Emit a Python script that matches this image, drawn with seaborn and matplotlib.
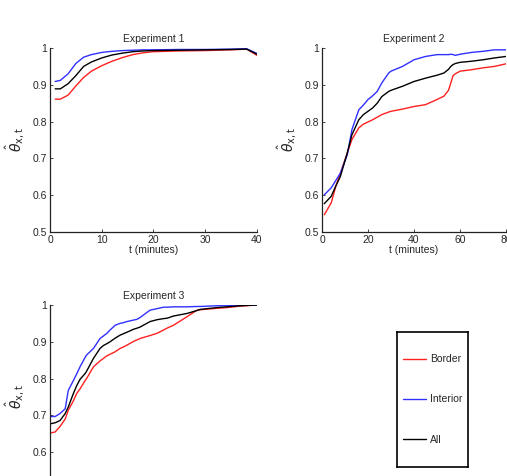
import matplotlib
matplotlib.use("Agg")
import matplotlib.pyplot as plt
import matplotlib.ticker as mticker
import seaborn as sns
import pandas as pd

# Experiment 1 (t in minutes)
t1 = [1, 2, 3.5, 5, 6.5, 8, 10, 12, 14, 16, 18, 20, 25, 30, 35, 38, 40]
border1 = [0.861, 0.861, 0.872, 0.897, 0.920, 0.937, 0.952, 0.964, 0.974, 0.982, 0.987, 0.990, 0.992, 0.993, 0.995, 0.997, 0.980]
interior1 = [0.909, 0.912, 0.930, 0.958, 0.975, 0.982, 0.988, 0.991, 0.993, 0.994, 0.995, 0.995, 0.996, 0.996, 0.997, 0.998, 0.985]
all1 = [0.889, 0.889, 0.903, 0.925, 0.950, 0.962, 0.973, 0.981, 0.986, 0.990, 0.992, 0.993, 0.994, 0.995, 0.996, 0.997, 0.983]

# Experiment 2
t2 = [1, 4, 6, 8, 11, 13, 16, 18, 20, 22, 24, 26, 29, 30, 35, 40, 45, 50, 53, 55, 56, 57, 58, 60, 65, 70, 75, 80]
border2 = [0.547, 0.579, 0.624, 0.660, 0.715, 0.751, 0.783, 0.793, 0.799, 0.805, 0.812, 0.819, 0.826, 0.828, 0.834, 0.841, 0.846, 0.860, 0.869, 0.885, 0.905, 0.925, 0.930, 0.937, 0.941, 0.946, 0.950, 0.957]
interior2 = [0.601, 0.620, 0.640, 0.660, 0.710, 0.778, 0.832, 0.845, 0.860, 0.870, 0.882, 0.905, 0.932, 0.937, 0.950, 0.968, 0.977, 0.982, 0.982, 0.982, 0.983, 0.982, 0.980, 0.983, 0.988, 0.991, 0.995, 0.995]
all2 = [0.577, 0.597, 0.625, 0.651, 0.715, 0.764, 0.805, 0.819, 0.828, 0.837, 0.850, 0.868, 0.882, 0.885, 0.896, 0.909, 0.918, 0.926, 0.932, 0.942, 0.950, 0.955, 0.958, 0.961, 0.964, 0.968, 0.973, 0.977]

# Experiment 3
t3 = [0, 1.5, 2.9, 4.4, 5.3, 6.8, 7.7, 8.7, 10.2, 10.6, 12.6, 14.5, 15.5, 16.5, 17.4, 18.9, 20.3, 21.3, 22.3, 24.2, 25.2, 26.1, 29, 31, 32.9, 33.9, 35.8, 39.7, 42.6, 43.5, 48.4, 51.3, 55.2, 60]
border3 = [0.652, 0.655, 0.670, 0.690, 0.714, 0.740, 0.759, 0.772, 0.795, 0.800, 0.832, 0.848, 0.855, 0.862, 0.866, 0.873, 0.882, 0.886, 0.891, 0.901, 0.905, 0.909, 0.917, 0.923, 0.932, 0.937, 0.945, 0.968, 0.986, 0.987, 0.991, 0.993, 0.997, 1.0]
interior3 = [0.697, 0.697, 0.705, 0.718, 0.768, 0.795, 0.812, 0.832, 0.858, 0.864, 0.882, 0.909, 0.916, 0.923, 0.932, 0.945, 0.950, 0.952, 0.955, 0.959, 0.961, 0.966, 0.986, 0.990, 0.994, 0.994, 0.995, 0.995, 0.996, 0.996, 0.998, 0.998, 0.999, 1.0]
all3 = [0.677, 0.680, 0.686, 0.705, 0.723, 0.760, 0.780, 0.798, 0.814, 0.820, 0.855, 0.882, 0.890, 0.895, 0.900, 0.910, 0.918, 0.922, 0.926, 0.934, 0.937, 0.940, 0.955, 0.960, 0.963, 0.964, 0.970, 0.977, 0.985, 0.988, 0.993, 0.995, 0.998, 1.0]

groups = ["Border", "Interior", "All"]
colors = {"Border": "#ff2020", "Interior": "#3030ff", "All": "black"}


def long_frame(t, border, interior, allv):
    rows = []
    for name, vals in zip(groups, [border, interior, allv]):
        rows.append(pd.DataFrame({"t": t, "theta": vals, "group": name}))
    return pd.concat(rows, ignore_index=True)


sns.set_style("ticks")
plt.rcParams["font.family"] = ["Liberation Sans", "DejaVu Sans"]
plt.rcParams["mathtext.fontset"] = "dejavusans"

W, H = 507, 476
fig = plt.figure(figsize=(W / 100, H / 100), dpi=100)


def px_axes(left, top, right, bottom):
    return fig.add_axes([left / W, 1 - bottom / H, (right - left) / W, (bottom - top) / H])


ax1 = px_axes(50, 48, 257, 232)
ax2 = px_axes(322, 48, 506, 232)
ax3 = px_axes(50, 305, 257, 489)

specs = [
    (ax1, long_frame(t1, border1, interior1, all1), "Experiment 1", 40, [0, 10, 20, 30, 40]),
    (ax2, long_frame(t2, border2, interior2, all2), "Experiment 2", 80, [0, 20, 40, 60, 80]),
    (ax3, long_frame(t3, border3, interior3, all3), "Experiment 3", 60, [0, 20, 40, 60]),
]

for ax, df, title, xmax, xticks in specs:
    sns.lineplot(data=df, x="t", y="theta", hue="group", palette=colors,
                 linewidth=1.0, legend=False, ax=ax)
    ax.set_xlim(0, xmax)
    ax.set_ylim(0.5, 1)
    ax.set_xticks(xticks)
    ax.set_yticks([0.5, 0.6, 0.7, 0.8, 0.9, 1.0])
    ax.yaxis.set_major_formatter(mticker.FormatStrFormatter("%g"))
    ax.set_title(title, fontsize=7.5, pad=4)
    ax.set_xlabel("t (minutes)", fontsize=7.5, labelpad=0)
    ax.set_ylabel(r"$\hat{\theta}_{\mathrm{x,t}}$", fontsize=10, labelpad=4)
    ax.tick_params(direction="in", length=2.5, width=0.6, labelsize=7.5, pad=2)
    sns.despine(ax=ax)
    for s in ["left", "bottom"]:
        ax.spines[s].set_linewidth(0.9)
        ax.spines[s].set_color("#222222")

# the third panel runs past the bottom of the figure
ax3.set_xlabel("")
ax3.tick_params(axis="x", labelbottom=False)
ax3.set_yticks([0.6, 0.7, 0.8, 0.9, 1.0])

# legend box
axl = px_axes(397, 332, 468, 467)
axl.set_xticks([])
axl.set_yticks([])
for s in axl.spines.values():
    s.set_linewidth(1.2)
    s.set_color("black")
handles = [plt.Line2D([], [], color=colors[g], linewidth=1.0) for g in groups]
axl.legend(handles, groups, loc="center", frameon=False, fontsize=7.5,
           labelspacing=2.9, handlelength=2.3, handletextpad=0.35)

fig.savefig("out.png", dpi=100)
